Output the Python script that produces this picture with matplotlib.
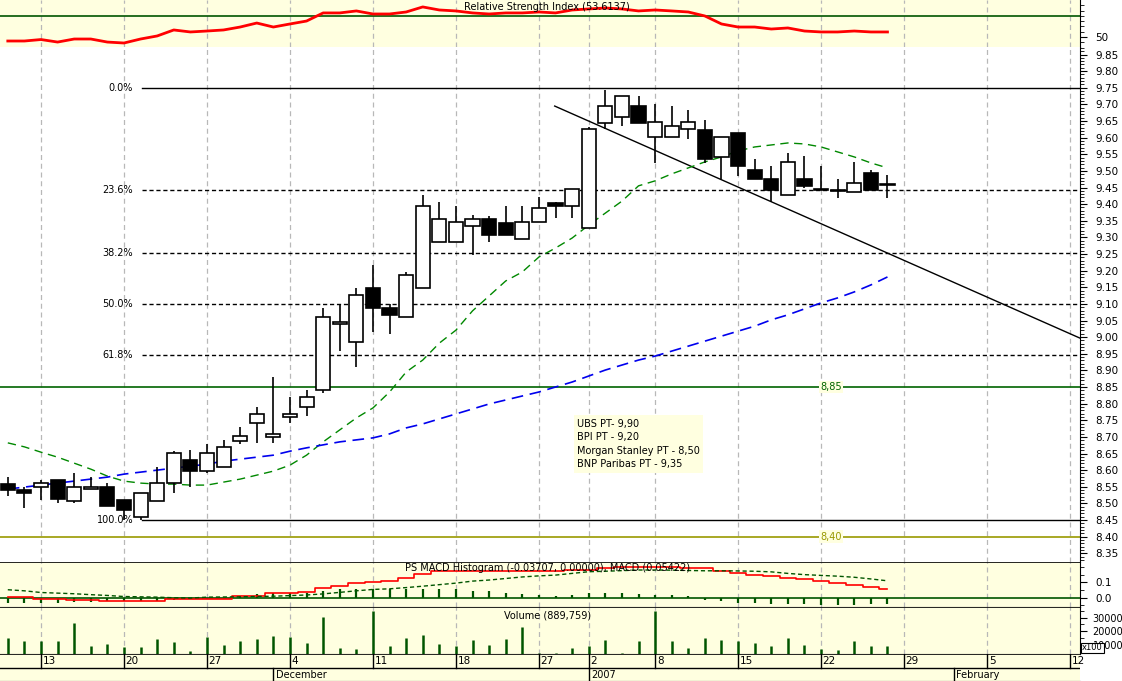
import matplotlib
matplotlib.use("Agg")
import matplotlib.pyplot as plt
import numpy as np
from matplotlib.ticker import MultipleLocator, FixedLocator

# ---------------- data ----------------
idx = list(range(-2, 52))  # trading-day index, 0 = 13 Nov 2006
opens = [8.558,8.540,8.549,8.570,8.507,8.543,8.549,8.510,8.459,8.507,8.561,8.630,8.597,8.609,8.688,8.742,8.700,8.760,8.790,
         8.841,9.039,8.985,9.148,9.088,9.061,9.148,9.286,9.286,9.334,9.355,9.343,9.295,9.346,9.403,9.394,9.328,9.644,9.662,
         9.695,9.602,9.602,9.626,9.623,9.542,9.614,9.503,9.476,9.428,9.476,9.446,9.443,9.437,9.494,9.458]
highs = [8.579,8.549,8.570,8.570,8.591,8.579,8.561,8.510,8.531,8.609,8.657,8.660,8.679,8.691,8.730,8.790,8.880,8.820,8.841,
         9.088,9.100,9.148,9.217,9.100,9.196,9.428,9.406,9.394,9.367,9.364,9.394,9.394,9.422,9.406,9.446,9.632,9.743,9.725,
         9.725,9.701,9.695,9.683,9.653,9.602,9.614,9.536,9.515,9.554,9.545,9.515,9.476,9.527,9.503,9.488]
lows = [8.522,8.486,8.510,8.501,8.501,8.543,8.492,8.450,8.450,8.507,8.531,8.549,8.591,8.609,8.679,8.682,8.682,8.742,8.763,
        8.832,8.958,8.910,9.015,9.009,9.061,9.148,9.286,9.286,9.247,9.286,9.307,9.295,9.346,9.358,9.358,9.328,9.626,9.635,
        9.644,9.524,9.602,9.596,9.524,9.476,9.485,9.476,9.407,9.428,9.449,9.443,9.419,9.437,9.443,9.419]
closes = [8.540,8.531,8.561,8.513,8.549,8.549,8.492,8.480,8.531,8.561,8.651,8.597,8.651,8.670,8.703,8.769,8.709,8.769,8.820,
          9.061,9.046,9.127,9.088,9.067,9.187,9.394,9.355,9.346,9.355,9.307,9.307,9.346,9.388,9.394,9.446,9.626,9.695,9.725,
          9.644,9.647,9.635,9.647,9.536,9.602,9.515,9.476,9.443,9.527,9.455,9.443,9.440,9.464,9.443,9.458]
ma_short = [8.682,8.670,8.654,8.639,8.621,8.603,8.582,8.567,8.561,8.558,8.558,8.555,8.555,8.564,8.573,8.585,8.597,8.615,8.645,
            8.685,8.721,8.757,8.787,8.835,8.895,8.931,8.982,9.021,9.079,9.124,9.169,9.196,9.241,9.268,9.298,9.337,9.373,9.409,
            9.455,9.470,9.491,9.509,9.527,9.542,9.560,9.572,9.578,9.584,9.581,9.572,9.557,9.542,9.524,9.509]
ma_long = [8.543,8.549,8.555,8.561,8.567,8.573,8.579,8.588,8.594,8.600,8.606,8.612,8.618,8.627,8.633,8.639,8.645,8.657,8.667,
           8.676,8.685,8.691,8.697,8.709,8.727,8.739,8.754,8.769,8.784,8.799,8.811,8.823,8.835,8.850,8.865,8.883,8.901,8.916,
           8.931,8.943,8.958,8.973,8.988,9.003,9.018,9.033,9.052,9.067,9.085,9.103,9.118,9.136,9.157,9.181]
rsi = [46.2,46.2,47.6,45.2,48.1,48.1,45.2,44.3,48.1,51.0,56.7,54.8,55.7,56.7,59.5,63.3,59.5,62.4,65.2,72.9,72.9,74.8,71.9,71.9,
       73.8,78.6,75.7,74.8,72.9,71.9,72.9,72.9,73.8,72.9,75.7,76.7,77.6,76.7,74.8,75.7,74.8,73.8,70.0,62.4,59.5,59.5,57.6,58.6,
       55.7,54.8,54.8,55.7,54.8,54.8]
macd_hist = [-0.037,-0.037,-0.037,-0.032,-0.030,-0.026,-0.022,-0.022,-0.022,-0.019,-0.015,-0.011,-0.006,-0.004,0.011,0.024,
             0.032,0.032,0.032,0.045,0.054,0.054,0.054,0.054,0.054,0.056,0.056,0.056,0.045,0.045,0.032,0.024,0.017,0.013,
             0.017,0.028,0.032,0.032,0.024,0.019,0.015,0.011,-0.015,-0.022,-0.032,-0.037,-0.041,-0.041,-0.043,-0.045,-0.045,
             -0.045,-0.041,-0.041]
macd_line = [0.006,0.006,-0.006,-0.010,-0.012,-0.014,-0.022,-0.022,-0.022,-0.022,-0.011,-0.011,-0.008,-0.006,0.011,0.011,
             0.028,0.032,0.037,0.061,0.075,0.093,0.105,0.110,0.126,0.154,0.175,0.175,0.175,0.175,0.175,0.175,0.175,0.175,
             0.180,0.180,0.195,0.200,0.200,0.200,0.200,0.195,0.190,0.175,0.162,0.150,0.141,0.130,0.122,0.110,0.093,0.082,
             0.070,0.058]
macd_signal = [0.052,0.045,0.034,0.030,0.026,0.020,0.015,0.008,0.006,0.004,0.000,-0.002,0.004,0.005,0.006,0.008,0.010,0.014,
               0.018,0.025,0.035,0.045,0.054,0.058,0.066,0.075,0.085,0.095,0.108,0.115,0.125,0.135,0.142,0.147,0.158,0.169,
               0.172,0.176,0.180,0.180,0.179,0.177,0.175,0.175,0.174,0.172,0.168,0.158,0.150,0.145,0.140,0.133,0.122,0.110]
volume = [14800,12600,12600,12600,25900,8900,10400,8100,8100,14100,11900,5200,15600,9600,12600,14100,16300,15600,11100,
          30400,7400,6700,34800,8900,14800,17000,10400,8900,13300,9600,14100,23000,3700,4400,7900,8900,13300,4200,12800,
          34800,12600,7900,15300,13800,12600,11600,9100,15300,10100,6700,6400,12600,9400,9100]
# fibonacci retracement (0% = 9.75, 100% = 8.45)
fib_levels = [0.0, 23.6, 38.2, 50.0, 61.8, 100.0]
fib_high, fib_low = 9.75, 8.45
support_lines = [8.85, 8.40]
support_labels = ["8,85", "8,40"]
trend_x = [30.95, 62.6]
trend_y = [9.695, 8.997]
note_lines = ["UBS PT- 9,90", "BPI PT - 9,20", "Morgan Stanley PT - 8,50", "BNP Paribas PT - 9,35"]
day_ticks = [0, 5, 10, 15, 20, 25, 30, 33, 37, 42, 47, 52, 57, 62]
day_labels = ["13", "20", "27", "4", "11", "18", "27", "2", "8", "15", "22", "29", "5", "12"]
month_pos = [14, 33, 55]
month_labels = ["December", "2007", "February"]

# ---------------- layout ----------------
W, H = 1122, 681
fig = plt.figure(figsize=(W / 100, H / 100), dpi=100)
fig.patch.set_facecolor("white")
YEL = "#FFFFE0"
XR = 1080
XLIM = (-2.47, 62.6)
FS = 7

def axbox(top, bottom):
    return [0, 1 - bottom / H, XR / W, (bottom - top) / H]

ax_rsi = fig.add_axes(axbox(0, 47))
ax = fig.add_axes(axbox(47, 562))
ax_macd = fig.add_axes(axbox(562, 607))
ax_vol = fig.add_axes(axbox(607, 654))
ax_date = fig.add_axes(axbox(654, 681))

x = np.array(idx)
for a in (ax_rsi, ax, ax_macd, ax_vol, ax_date):
    a.set_xlim(*XLIM)
    a.set_xticks([])
    for s in ("left", "top"):
        a.spines[s].set_visible(False)
    a.spines["right"].set_color("black")
    a.spines["bottom"].set_color("black")
    a.yaxis.tick_right()
    a.tick_params(axis="y", direction="out", labelsize=FS + 0.5, length=5, pad=6, colors="black")
    a.tick_params(axis="y", which="minor", direction="out", length=3)
    if a is not ax_date:
        for t in day_ticks:
            a.axvline(t, color="#b8b8b8", ls=(0, (4, 3)), lw=0.9, zorder=0)

for a in (ax_rsi, ax_macd, ax_vol, ax_date):
    a.set_facecolor(YEL)

# RSI
ax_rsi.set_ylim(40.5, 85.2)
ax_rsi.axhline(70, color="#005500", lw=1.2)
ax_rsi.plot(x, rsi, color="red", lw=2)
ax_rsi.set_yticks([50])
ax_rsi.yaxis.set_minor_locator(FixedLocator([45, 55, 60, 65, 70, 75, 80]))
ax_rsi.text(30.5, 83, "Relative Strength Index (53.6137)", fontsize=FS, ha="center", va="top")
ax_rsi.spines["bottom"].set_visible(False)

# main price panel
ax.set_ylim(8.3237, 9.8726)
ax.yaxis.set_minor_locator(MultipleLocator(0.01))
ax.set_yticks(np.arange(8.35, 9.851, 0.05))
ax.set_yticklabels([f"{v:.2f}" for v in np.arange(8.35, 9.851, 0.05)])
ax.spines["bottom"].set_visible(False)

fib_x0 = 6.1
for lvl in fib_levels:
    p = fib_high - (fib_high - fib_low) * lvl / 100.0
    solid = lvl in (0.0, 100.0)
    ax.plot([fib_x0, XLIM[1]], [p, p], color="black", lw=1.0,
            ls="-" if solid else (0, (3, 2)), zorder=1)
    ax.text(5.55, p, f"{lvl:.1f}%", fontsize=FS, ha="right", va="center")

sup_colors = ["#006400", "#999900"]
for val, lab, c in zip(support_lines, support_labels, sup_colors):
    ax.axhline(val, color=c, lw=1.2, zorder=1)
    ax.text(47.6, val, lab, fontsize=FS, color=c, ha="center", va="center",
            bbox=dict(boxstyle="square,pad=0.15", fc=YEL, ec="none"), zorder=3)

ax.plot(trend_x, trend_y, color="black", lw=1.0, zorder=2)
ax.plot(x, ma_short, color="#008800", lw=1.0, ls=(0, (6, 4)), zorder=2)
ax.plot(x, ma_long, color="#0000ee", lw=1.2, ls=(0, (7, 4)), zorder=2)

o = np.array(opens); c = np.array(closes); h = np.array(highs); l = np.array(lows)
ax.vlines(x, l, h, color="black", lw=1.2, zorder=4)
bot = np.minimum(o, c)
hgt = np.maximum(np.abs(c - o), 0.0015)
cols = ["white" if cc >= oo else "black" for oo, cc in zip(o, c)]
ax.bar(x, hgt, bottom=bot, width=0.85, color=cols, edgecolor="black", lw=1.2, zorder=5)

ax.text(32.3, 8.755, "\n".join(note_lines), fontsize=FS, ha="left", va="top", linespacing=1.45,
        bbox=dict(boxstyle="square,pad=0.35", fc=YEL, ec="none"), zorder=6)

# MACD
ax_macd.set_ylim(-0.060, 0.232)
ax_macd.axhline(0, color="#005500", lw=1.2)
ax_macd.vlines(x, 0, macd_hist, color="#005500", lw=1.6)
ax_macd.step(x, macd_line, where="mid", color="red", lw=1.2)
ax_macd.plot(x, macd_signal, color="#005500", lw=1.0, ls=(0, (3, 2)))
ax_macd.set_yticks([0.0, 0.1])
ax_macd.set_yticklabels(["0.0", "0.1"])
ax_macd.yaxis.set_minor_locator(FixedLocator([-0.05, 0.05, 0.15, 0.2]))
ax_macd.text(30.5, 0.225, "PS MACD Histogram (-0.03707, 0.00000), MACD (0.05422)", fontsize=FS,
             ha="center", va="top")
ax_macd.axhline(0.232, color="black", lw=1.2)

# Volume
ax_vol.set_ylim(3300, 37800)
ax_vol.vlines(x, 0, volume, color="#005500", lw=1.8)
ax_vol.set_yticks([10000, 20000, 30000])
ax_vol.set_yticklabels(["10000", "20000", "30000"])
ax_vol.tick_params(axis="y", labelsize=FS, pad=4)
ax_vol.yaxis.set_minor_locator(FixedLocator([5000, 15000, 25000, 35000]))
ax_vol.text(30.5, 35500, "Volume (889,759)", fontsize=FS, ha="center", va="top")
ax_vol.axhline(37800, color="black", lw=1.2)
fig.text(1082 / W, 1 - 648 / H, "x100", fontsize=6, ha="left", va="center", zorder=10,
         bbox=dict(boxstyle="square,pad=0.1", fc="white", ec="black", lw=0.8))

# Date axis
ax_date.set_ylim(0, 2)
ax_date.set_yticks([])
ax_date.spines["right"].set_visible(False)
ax_date.axhline(2, color="black", lw=1.2)
ax_date.axhline(0.96, color="black", lw=1.0)
for t, lab in zip(day_ticks, day_labels):
    ax_date.plot([t, t], [0.96, 2], color="black", lw=1.0)
    ax_date.text(t + 0.1, 1.45, lab, fontsize=FS + 0.5, ha="left", va="center")
for t, lab in zip(month_pos, month_labels):
    ax_date.plot([t, t], [0, 0.96], color="black", lw=1.0)
    ax_date.text(t + 0.15, 0.45, lab, fontsize=FS, ha="left", va="center")

fig.savefig("out.png", dpi=100)
